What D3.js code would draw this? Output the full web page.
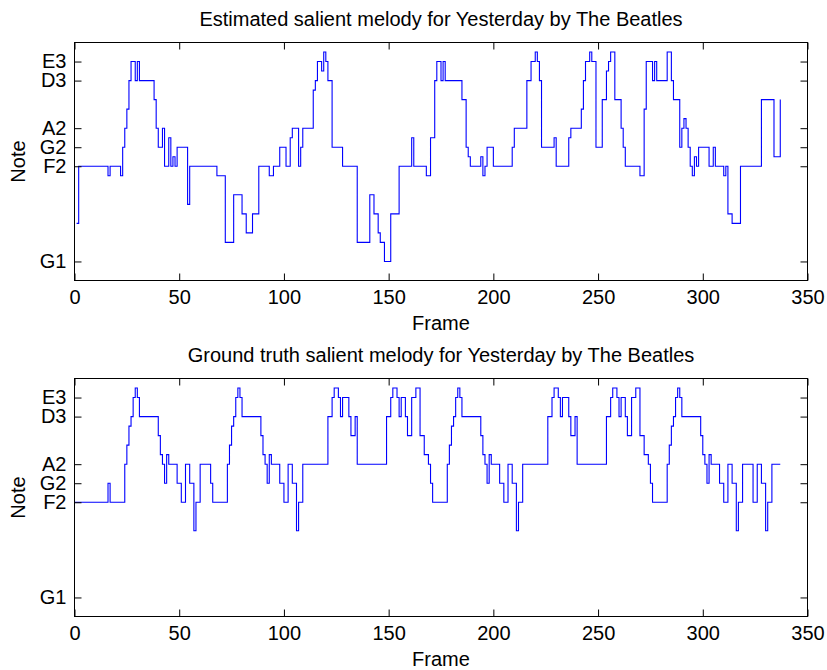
<!DOCTYPE html>
<html>
<head>
<meta charset="utf-8">
<script src="https://cdn.jsdelivr.net/npm/d3@7"></script>
<style>
  body { margin: 0; background: #fff; }
  svg text { font-family: "Liberation Sans", Arial, Helvetica, sans-serif; fill: #000; }
</style>
</head>
<body>
<div id="chart"></div>
<script>
// y ticks are notes (midi numbers) labelled by name
const noteTicks = [31, 41, 43, 45, 50, 52];
const noteNames = ["G1", "F2", "G2", "A2", "D3", "E3"];
const frameTicks = [0, 50, 100, 150, 200, 250, 300, 350];

// estimated melody: frame where the note changes + the new note
const estFrames = [1, 2, 16, 17, 22, 23, 24, 25, 26, 27, 29, 30, 31, 38, 39, 40, 42, 43, 45, 46,
  47, 48, 49, 54, 55, 68, 72, 76, 80, 82, 85, 88, 93, 95, 98, 101, 103, 104, 107, 108,
  109, 114, 115, 116, 118, 119, 120, 121, 123, 128, 135, 141, 143, 145, 146, 148, 151, 155, 161, 162,
  168, 170, 172, 173, 175, 176, 177, 185, 187, 188, 189, 194, 195, 196, 197, 200, 209, 210, 216, 218,
  220, 221, 222, 223, 229, 230, 236, 237, 242, 243, 244, 246, 247, 249, 252, 254, 255, 256, 258, 261,
  262, 263, 270, 272, 273, 276, 277, 278, 283, 285, 286, 289, 290, 291, 292, 293, 294, 295, 296, 297,
  298, 303, 305, 306, 310, 311, 312, 314, 318, 328, 334, 337];
const estNotes = [35, 41, 40, 41, 40, 43, 45, 47, 50, 52, 50, 52, 50, 48, 45, 43, 45, 41, 44, 41,
  42, 41, 43, 37, 41, 40, 33, 38, 36, 34, 36, 41, 40, 41, 43, 41, 44, 45, 41, 43,
  45, 49, 50, 52, 51, 53, 52, 50, 43, 41, 33, 38, 36, 34, 33, 31, 36, 41, 44, 41,
  40, 44, 50, 52, 50, 52, 50, 48, 43, 42, 41, 42, 40, 41, 43, 41, 43, 45, 50, 52,
  53, 52, 50, 43, 44, 41, 44, 45, 47, 50, 52, 53, 52, 43, 48, 51, 52, 53, 48, 45,
  43, 41, 40, 47, 52, 50, 52, 50, 53, 50, 48, 43, 45, 46, 45, 43, 41, 40, 42, 41,
  43, 41, 43, 41, 40, 41, 36, 35, 41, 48, 42, 48];

// ground truth melody
const truthFrames = [0, 16, 17, 24, 25, 26, 27, 28, 29, 30, 31, 40, 41, 42, 43, 44, 45, 49, 51, 53,
  55, 57, 58, 60, 65, 66, 73, 74, 75, 76, 77, 78, 79, 80, 89, 90, 91, 92, 93, 94,
  98, 100, 102, 104, 106, 107, 109, 121, 123, 124, 126, 127, 128, 131, 132, 134, 135, 149, 151, 152,
  154, 155, 156, 158, 159, 161, 163, 165, 167, 169, 170, 171, 178, 179, 180, 181, 182, 183, 184, 185,
  194, 195, 196, 197, 198, 199, 203, 205, 207, 209, 211, 212, 214, 226, 228, 229, 231, 232, 233, 236,
  237, 239, 240, 254, 256, 257, 259, 260, 261, 263, 264, 266, 268, 270, 272, 274, 275, 276, 283, 284,
  285, 286, 287, 288, 289, 290, 299, 300, 301, 302, 303, 304, 308, 310, 312, 314, 316, 317, 319, 324,
  326, 328, 330, 331, 333, 337];
const truthNotes = [41, 43, 41, 45, 47, 49, 50, 52, 53, 52, 50, 48, 46, 45, 43, 46, 45, 43, 41, 45,
  43, 38, 41, 45, 43, 41, 45, 47, 49, 50, 52, 53, 52, 50, 48, 46, 45, 43, 46, 45,
  43, 41, 45, 43, 38, 41, 45, 50, 52, 53, 52, 50, 52, 50, 48, 50, 45, 50, 52, 53,
  52, 50, 52, 50, 48, 52, 53, 48, 46, 45, 43, 41, 45, 47, 49, 50, 52, 53, 52, 50,
  48, 46, 45, 43, 46, 45, 43, 41, 45, 43, 38, 41, 45, 50, 52, 53, 52, 50, 52, 50,
  48, 50, 45, 50, 52, 53, 52, 50, 52, 50, 48, 52, 53, 48, 46, 45, 43, 41, 45, 47,
  49, 50, 52, 53, 52, 50, 48, 46, 45, 43, 46, 45, 43, 41, 45, 43, 38, 41, 45, 41,
  45, 43, 38, 41, 45, 45];

const W = 827, H = 670;
const left = 74.5, right = 807.5;
const fontSize = 20;

const svg = d3.select("#chart")
  .append("svg")
    .attr("width", W)
    .attr("height", H);

const x = d3.scaleLinear().domain([0, 350]).range([left, right]);

function drawPanel(top, bottom, title, frames, notes) {
  const y = d3.scaleLinear().domain([29, 54]).range([bottom, top]);
  const g = svg.append("g");

  // melody as stairs
  const pts = frames.map((f, i) => [f, notes[i]]);
  const line = d3.line()
    .x(d => x(d[0]))
    .y(d => y(d[1]))
    .curve(d3.curveStepAfter);
  g.append("path")
    .datum(pts)
    .attr("d", line)
    .attr("fill", "none")
    .attr("stroke", "#0000ff")
    .attr("stroke-width", 1.1);

  // box axes, ticks pointing inward
  const xb = g.append("g")
    .attr("transform", `translate(0,${bottom})`)
    .call(d3.axisBottom(x).tickValues(frameTicks).tickSizeInner(-7).tickSizeOuter(0).tickPadding(9));
  g.append("g")
    .attr("transform", `translate(0,${top})`)
    .call(d3.axisTop(x).tickValues(frameTicks).tickSizeInner(-7).tickSizeOuter(0).tickFormat(""));
  g.append("g")
    .attr("transform", `translate(${left},0)`)
    .call(d3.axisLeft(y).tickValues(noteTicks).tickSizeInner(-7).tickSizeOuter(0).tickPadding(8)
      .tickFormat((d, i) => noteNames[i]));
  g.append("g")
    .attr("transform", `translate(${right},0)`)
    .call(d3.axisRight(y).tickValues(noteTicks).tickSizeInner(-7).tickSizeOuter(0).tickFormat(""));

  g.selectAll(".domain").remove();
  g.selectAll(".tick line").attr("stroke", "#000");
  g.selectAll(".tick text").style("font-size", fontSize + "px");

  g.append("rect")
    .attr("x", left).attr("y", top)
    .attr("width", right - left).attr("height", bottom - top)
    .attr("fill", "none")
    .attr("stroke", "#000")
    .attr("stroke-width", 1);

  // labels
  g.append("text")
    .attr("x", (left + right) / 2)
    .attr("y", top - 17)
    .attr("text-anchor", "middle")
    .style("font-size", fontSize + "px")
    .text(title);
  g.append("text")
    .attr("x", (left + right) / 2)
    .attr("y", bottom + 49)
    .attr("text-anchor", "middle")
    .style("font-size", fontSize + "px")
    .text("Frame");
  g.append("text")
    .attr("transform", `translate(25,${(top + bottom) / 2}) rotate(-90)`)
    .attr("text-anchor", "middle")
    .style("font-size", fontSize + "px")
    .text("Note");
}

drawPanel(42.5, 280.5, "Estimated salient melody for Yesterday by The Beatles", estFrames, estNotes);
drawPanel(378.5, 616.5, "Ground truth salient melody for Yesterday by The Beatles", truthFrames, truthNotes);
</script>
</body>
</html>
